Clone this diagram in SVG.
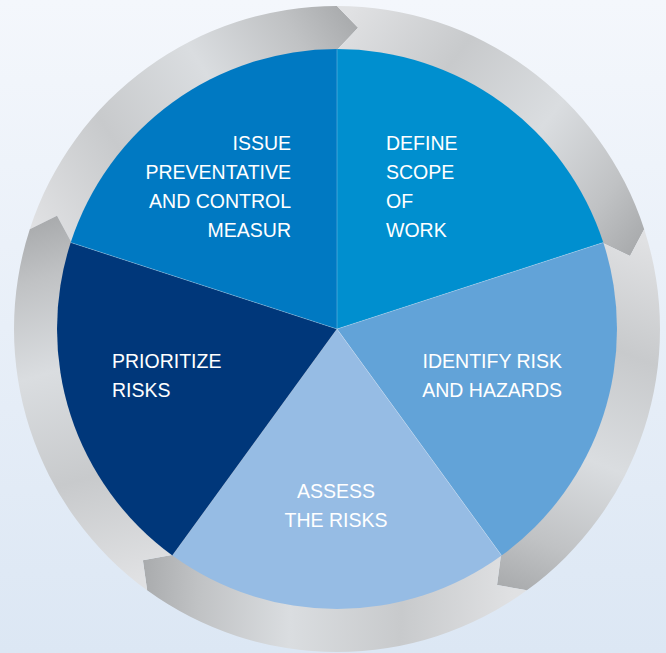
<svg xmlns="http://www.w3.org/2000/svg" width="666" height="653" viewBox="0 0 666 653">
  <defs>
    <linearGradient id="bg" x1="0" y1="0" x2="0" y2="1">
      <stop offset="0" stop-color="#f4f7fc"/>
      <stop offset="1" stop-color="#dce7f4"/>
    </linearGradient>
    <linearGradient id="metal" gradientUnits="userSpaceOnUse">
      <stop offset="0" stop-color="#e0e1e3"/>
      <stop offset="0.3" stop-color="#c8cacc"/>
      <stop offset="0.6" stop-color="#dadde0"/>
      <stop offset="0.85" stop-color="#c0c2c4"/>
      <stop offset="1" stop-color="#a9abad"/>
    </linearGradient>
    <linearGradient id="g1" href="#metal" x1="40" y1="236" x2="358" y2="28"/>
    <linearGradient id="g2" href="#metal" x1="337" y1="28" x2="630" y2="256"/>
    <linearGradient id="g3" href="#metal" x1="633" y1="236" x2="497" y2="585"/>
    <linearGradient id="g4" href="#metal" x1="514" y1="572" x2="143" y2="560"/>
    <linearGradient id="g5" href="#metal" x1="160" y1="573" x2="57" y2="216"/>
  </defs>
  <style>
    .lbl { font-family: "Liberation Sans", Arial, sans-serif; font-size: 19.5px; fill: #ffffff; }
    .r { text-anchor: end; }
    .m { text-anchor: middle; }
    .div { stroke: #ffffff; stroke-opacity: 0.25; stroke-width: 1; fill: none; }
  </style>
  <rect x="0" y="0" width="666" height="653" fill="url(#bg)"/>

  <g id="connectors">
    <path fill="url(#g1)" d="M 29.81,229.19 A 323 323 0 0 1 337,6 L 358.07,27.74 L 337,50 A 279 279 0 0 0 71.65,242.78 L 56.99,215.87 Z"/>
    <path fill="url(#g2)" d="M 337,6 A 323 323 0 0 1 644.19,229.19 L 630.03,255.94 L 602.35,242.78 A 279 279 0 0 0 337,50 L 358.07,27.74 Z"/>
    <path fill="url(#g3)" d="M 644.19,229.19 A 323 323 0 0 1 526.85,590.31 L 497.04,585.11 L 500.99,554.72 A 279 279 0 0 0 602.35,242.78 L 630.03,255.94 Z"/>
    <path fill="url(#g4)" d="M 526.85,590.31 A 323 323 0 0 1 147.15,590.31 L 142.88,560.35 L 173.01,554.72 A 279 279 0 0 0 500.99,554.72 L 497.04,585.11 Z"/>
    <path fill="url(#g5)" d="M 147.15,590.31 A 323 323 0 0 1 29.81,229.19 L 56.99,215.87 L 71.65,242.78 A 279 279 0 0 0 173.01,554.72 L 142.88,560.35 Z"/>
  </g>

  <g id="node-define">
    <path fill="#008fcf" d="M 337,329 L 337,49 A 280 280 0 0 1 603.30,242.48 Z"/>
    <text class="lbl" x="386" y="150">DEFINE</text>
    <text class="lbl" x="386" y="179">SCOPE</text>
    <text class="lbl" x="386" y="208">OF</text>
    <text class="lbl" x="386" y="237">WORK</text>
  </g>
  <g id="node-identify">
    <path fill="#62a3d8" d="M 337,329 L 603.30,242.48 A 280 280 0 0 1 501.58,555.52 Z"/>
    <text class="lbl r" x="562" y="368">IDENTIFY RISK</text>
    <text class="lbl r" x="562" y="397">AND HAZARDS</text>
  </g>
  <g id="node-assess">
    <path fill="#96bce4" d="M 337,329 L 501.58,555.52 A 280 280 0 0 1 172.42,555.52 Z"/>
    <text class="lbl m" x="336" y="498">ASSESS</text>
    <text class="lbl m" x="336" y="527">THE RISKS</text>
  </g>
  <g id="node-prioritize">
    <path fill="#00377a" d="M 337,329 L 172.42,555.52 A 280 280 0 0 1 70.70,242.48 Z"/>
    <text class="lbl" x="112" y="368">PRIORITIZE</text>
    <text class="lbl" x="112" y="397">RISKS</text>
  </g>
  <g id="node-issue">
    <path fill="#0079c2" d="M 337,329 L 70.70,242.48 A 280 280 0 0 1 337,49 Z"/>
    <text class="lbl r" x="291" y="150">ISSUE</text>
    <text class="lbl r" x="291" y="179">PREVENTATIVE</text>
    <text class="lbl r" x="291" y="208">AND CONTROL</text>
    <text class="lbl r" x="291" y="237">MEASUR</text>
  </g>
  <g id="dividers">
    <path class="div" d="M 337,329 L 337,49 M 337,329 L 603.30,242.48 M 337,329 L 501.58,555.52 M 337,329 L 172.42,555.52 M 337,329 L 70.70,242.48"/>
  </g>
</svg>
